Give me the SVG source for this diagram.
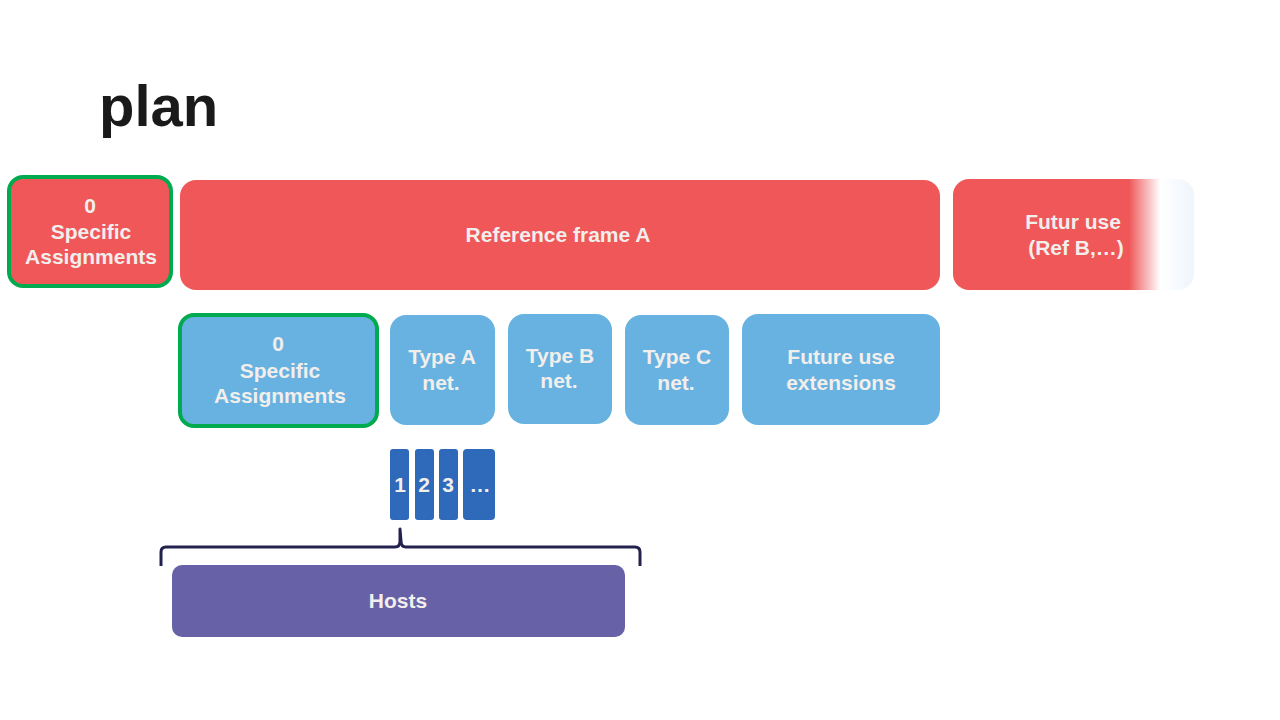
<svg xmlns="http://www.w3.org/2000/svg" width="1280" height="720" viewBox="0 0 1280 720">
<style>
text{font-family:"Liberation Sans",Arial,sans-serif;font-weight:bold;text-anchor:middle;fill:#F2EEEC}
.t{font-size:21px}
.red{fill:#EF5759}
.blue{fill:#67B2E0}
.sm{fill:#2E69BA}
.hl{stroke:#00AB4F;stroke-width:4}
</style>
<defs>
<linearGradient id="fade" gradientUnits="userSpaceOnUse" x1="953" y1="0" x2="1194" y2="0">
<stop offset="0" stop-color="#EF5759"/>
<stop offset="0.73" stop-color="#EF5759"/>
<stop offset="0.86" stop-color="#FFFFFF"/>
<stop offset="1" stop-color="#EEF5FC"/>
</linearGradient>
</defs>
<rect width="1280" height="720" fill="#fff"/>
<text x="99" y="126" style="font-size:58px;text-anchor:start;fill:#1A1A1A">plan</text>

<g id="red-specific">
<rect x="9" y="177" width="162" height="109" rx="14" class="red hl"/>
<text class="t" x="90" y="213">0</text>
<text class="t" x="91" y="239">Specific</text>
<text class="t" x="91" y="264">Assignments</text>
</g>
<g id="ref-frame-a">
<rect x="180" y="180" width="760" height="110" rx="16" class="red"/>
<text class="t" x="558" y="242">Reference frame A</text>
</g>
<g id="futur-use">
<rect x="953" y="179" width="241" height="111" rx="16" fill="url(#fade)"/>
<text class="t" x="1073" y="229">Futur use</text>
<text class="t" x="1076" y="255">(Ref B,…)</text>
</g>

<g id="blue-specific">
<rect x="180" y="315" width="197" height="111" rx="14" class="blue hl"/>
<text class="t" x="278" y="351">0</text>
<text class="t" x="280" y="378">Specific</text>
<text class="t" x="280" y="403">Assignments</text>
</g>
<g id="type-a">
<rect x="390" y="315" width="105" height="110" rx="16" class="blue"/>
<text class="t" x="442" y="364">Type A</text>
<text class="t" x="441" y="390">net.</text>
</g>
<g id="type-b">
<rect x="508" y="314" width="104" height="110" rx="16" class="blue"/>
<text class="t" x="560" y="363">Type B</text>
<text class="t" x="559" y="388">net.</text>
</g>
<g id="type-c">
<rect x="625" y="315" width="104" height="110" rx="16" class="blue"/>
<text class="t" x="677" y="364">Type C</text>
<text class="t" x="676" y="390">net.</text>
</g>
<g id="future-ext">
<rect x="742" y="314" width="198" height="111" rx="16" class="blue"/>
<text class="t" x="841" y="364">Future use</text>
<text class="t" x="841" y="390">extensions</text>
</g>

<g id="host-1">
<rect x="390" y="449" width="19" height="71" rx="3" class="sm"/>
<text class="t" x="400" y="492">1</text>
</g>
<g id="host-2">
<rect x="415" y="449" width="19" height="71" rx="3" class="sm"/>
<text class="t" x="424" y="492">2</text>
</g>
<g id="host-3">
<rect x="439" y="449" width="19" height="71" rx="3" class="sm"/>
<text class="t" x="448" y="492">3</text>
</g>
<g id="host-more">
<rect x="463" y="449" width="32" height="71" rx="4" class="sm"/>
<text class="t" x="480" y="492">…</text>
</g>

<g id="connectors">
<path d="M161,566 L161,552 Q161,547 166,547 L395,547 Q400,547 400,541 L400,529 L401,541 Q401,547 406,547 L635,547 Q640,547 640,552 L640,566" fill="none" stroke="#23224F" stroke-width="3" stroke-linejoin="round"/>
</g>

<g id="hosts">
<rect x="172" y="565" width="453" height="72" rx="10" fill="#6761A8"/>
<text class="t" x="398" y="608">Hosts</text>
</g>
</svg>
